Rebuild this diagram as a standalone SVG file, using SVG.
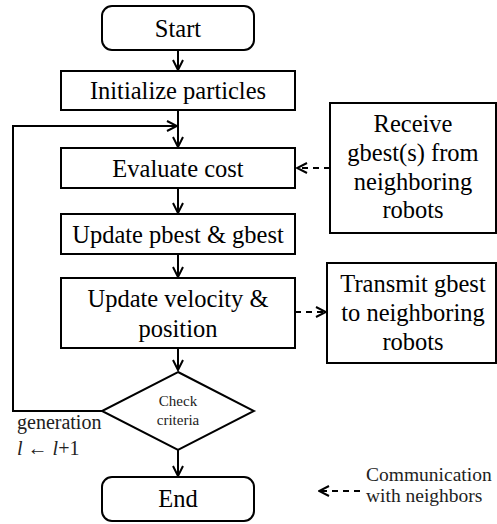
<svg xmlns="http://www.w3.org/2000/svg" width="497" height="524" viewBox="0 0 497 524">
<style>
.box{fill:#fff;stroke:#000;stroke-width:2}
.ln{fill:none;stroke:#000;stroke-width:2}
.dash{fill:none;stroke:#000;stroke-width:2;stroke-dasharray:6,5}
text{font-family:'Liberation Serif','Times New Roman',serif}
.t{font-size:24.5px;fill:#000;text-anchor:middle}
.s{font-size:15px;fill:#222;text-anchor:middle}
.g{font-size:20px;fill:#222}
.c{font-size:19.5px;fill:#222}
</style>
<defs>
<marker id="ah" viewBox="0 0 12 12" refX="11" refY="6" markerWidth="12" markerHeight="12" markerUnits="userSpaceOnUse" orient="auto">
<path d="M1,1 L11,6 L1,11" fill="none" stroke="#000" stroke-width="2"/>
</marker>
</defs>
<g id="connectors">
<line class="ln" x1="178" y1="50" x2="178" y2="70" marker-end="url(#ah)"/>
<line class="ln" x1="178" y1="110" x2="178" y2="147" marker-end="url(#ah)"/>
<polyline class="ln" points="102,411 13,411 13,126 177,126" marker-end="url(#ah)"/>
<line class="ln" x1="178" y1="188" x2="178" y2="213" marker-end="url(#ah)"/>
<line class="ln" x1="178" y1="254" x2="178" y2="277" marker-end="url(#ah)"/>
<line class="ln" x1="178" y1="348" x2="178" y2="370" marker-end="url(#ah)"/>
<line class="ln" x1="178" y1="450" x2="178" y2="476" marker-end="url(#ah)"/>
<line class="dash" x1="330" y1="168" x2="297" y2="168" marker-end="url(#ah)"/>
<line class="dash" x1="295" y1="312" x2="326" y2="312" marker-end="url(#ah)"/>
<line class="dash" x1="360" y1="491" x2="319" y2="491" marker-end="url(#ah)"/>
</g>
<g id="start">
<rect class="box" x="102" y="6" width="152" height="44" rx="10"/>
<text class="t" x="178" y="36.5">Start</text>
</g>
<g id="init">
<rect class="box" x="61" y="71" width="234" height="39"/>
<text class="t" x="178" y="99">Initialize particles</text>
</g>
<g id="evaluate">
<rect class="box" x="61" y="148" width="234" height="40"/>
<text class="t" x="178" y="176.5">Evaluate cost</text>
</g>
<g id="pbest">
<rect class="box" x="61" y="214" width="234" height="40"/>
<text class="t" x="178" y="242.5">Update pbest &amp; gbest</text>
</g>
<g id="velocity">
<rect class="box" x="61" y="278" width="234" height="70"/>
<text class="t" x="178" y="307">Update velocity &amp;</text>
<text class="t" x="178" y="337">position</text>
</g>
<g id="check">
<polygon class="box" points="178,372 254,411 178,450 102,411"/>
<text class="s" x="178" y="406">Check</text>
<text class="s" x="178" y="425">criteria</text>
</g>
<g id="end">
<rect class="box" x="102" y="477" width="152" height="44" rx="10"/>
<text class="t" x="178" y="507">End</text>
</g>
<g id="receive">
<rect class="box" x="330" y="103" width="166" height="130"/>
<text class="t" x="413" y="132">Receive</text>
<text class="t" x="413" y="161">gbest(s) from</text>
<text class="t" x="413" y="190">neighboring</text>
<text class="t" x="413" y="218">robots</text>
</g>
<g id="transmit">
<rect class="box" x="327" y="263" width="169" height="100"/>
<text class="t" x="413" y="292">Transmit gbest</text>
<text class="t" x="413" y="321">to neighboring</text>
<text class="t" x="413" y="350">robots</text>
</g>
<g id="labels">
<text class="g" x="17" y="429">generation</text>
<text class="g" x="17" y="455"><tspan font-style="italic">l</tspan> ← <tspan font-style="italic">l</tspan>+1</text>
<text class="c" x="366" y="481">Communication</text>
<text class="c" x="366" y="502">with neighbors</text>
</g>
</svg>
